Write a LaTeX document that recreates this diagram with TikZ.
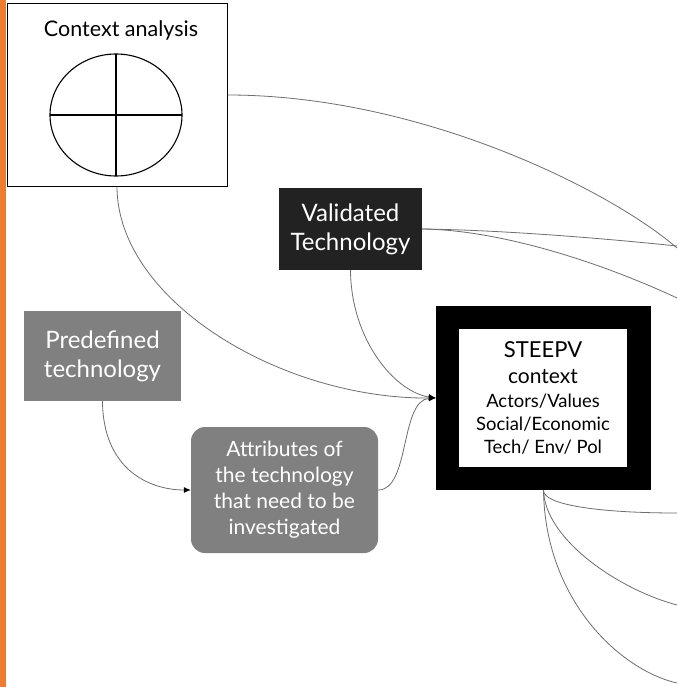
\documentclass[tikz,border=0pt]{standalone}
\usepackage{fontspec}
\setmainfont{Lato}
\usetikzlibrary{arrows.meta}
\definecolor{orangebar}{RGB}{237,125,49}
\definecolor{darkbox}{RGB}{34,34,34}
\definecolor{graybox}{RGB}{128,128,128}
\definecolor{linegray}{RGB}{110,110,110}
\tikzset{
  conn/.style={draw=linegray, line width=0.8pt},
  arr/.style={conn, -{Latex[length=7pt,width=6pt,black]}},
  filledbox/.style={rectangle, text=white, align=center, inner sep=0pt, font=\fontsize{24}{29}\selectfont},
}
\begin{document}
\begin{tikzpicture}[x=1pt,y=-1pt]
\useasboundingbox (0,0) rectangle (677,687);
\fill[white] (0,0) rectangle (677,687);
\fill[orangebar] (0,0) rectangle (6,687);

% Context analysis box
\node[draw=black, line width=1pt, rectangle, minimum width=220pt, minimum height=182pt, inner sep=0pt] (ctx) at (117,95) {};
\node[font=\fontsize{21.5}{24}\selectfont] (ctxt) at (121,30) {Context analysis};
\draw[black, line width=1.1pt] (116,115) ellipse [x radius=66, y radius=61];
\draw[black, line width=1.1pt] (50,115) -- (182,115);
\draw[black, line width=1.1pt] (116,54) -- (116,176);

% Validated technology
\node[filledbox, fill=darkbox, minimum width=143pt, minimum height=82pt] (val) at (350.5,229) {Validated\\Technology};

% Predefined technology
\node[filledbox, fill=graybox, minimum width=157pt, minimum height=90pt] (pre) at (102.5,356) {Predefined\\technology};

% Attributes
\node[filledbox, fill=graybox, rounded corners=14pt, minimum width=187pt, minimum height=126pt, font=\fontsize{21}{26}\selectfont] (att) at (284.5,490) {Attributes of\\the technology\\that need to be\\investigated};

% STEEPV
\node[rectangle, fill=black, minimum width=215pt, minimum height=184pt, inner sep=0pt] (st) at (543.5,398) {};
\node[rectangle, fill=white, minimum width=168pt, minimum height=138pt, inner sep=0pt, align=center, font=\fontsize{18.4}{23}\selectfont] (stin) at (543,398)
  {{\fontsize{22}{23}\selectfont STEEPV}\\[3pt]{\fontsize{21}{23}\selectfont context}\\[1pt]
   Actors/Values\\Social/Economic\\Tech/ Env/ Pol};

% right-edge endpoints
\coordinate (r1) at (677,248);
\coordinate (r2) at (677,246);
\coordinate (r3) at (677,298);
\coordinate (r4) at (677,513);
\coordinate (r5) at (677,605);
\coordinate (r6) at (677,683);

% connectors
\draw[arr] (ctx.south) .. controls (117,300) and (280,399) .. (st.west);
\draw[arr] (val.south) .. controls (351,340) and (395,392) .. (st.west);
\draw[arr] (att.east) .. controls (410,490) and (400,400) .. (st.west);
\draw[arr] (pre.south) .. controls (103,470) and (150,490) .. (att.west);

\draw[conn] (ctx.east) .. controls (420,95) and (610,190) .. (r1);
\draw[conn] (val.east) .. controls (500,230) and (600,238) .. (r2);
\draw[conn] (val.east) .. controls (500,230) and (600,262) .. (r3);

\draw[conn] (st.south) .. controls (543,505) and (600,513) .. (r4);
\draw[conn] (st.south) .. controls (545,540) and (620,590) .. (r5);
\draw[conn] (st.south) .. controls (545,600) and (620,670) .. (r6);
\end{tikzpicture}
\end{document}
